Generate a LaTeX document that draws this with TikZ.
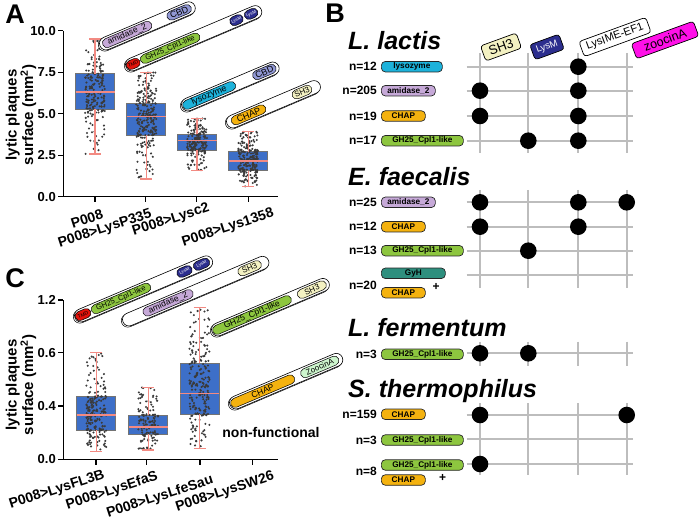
\documentclass[tikz,border=0pt]{standalone}
\usepackage{fontspec}
\setmainfont{Liberation Sans}
\usetikzlibrary{positioning,shadows}

\definecolor{boxblue}{HTML}{3D6FC8}
\definecolor{medred}{HTML}{F28A82}
\definecolor{dotc}{HTML}{3A3A3A}
\definecolor{lysoc}{HTML}{1DB2DA}
\definecolor{amic}{HTML}{C6A9D8}
\definecolor{chapc}{HTML}{F4B20F}
\definecolor{ghc}{HTML}{8DC63F}
\definecolor{gyhc}{HTML}{2E8F7E}
\definecolor{shc}{HTML}{F3F1C2}
\definecolor{lysmc}{HTML}{2C2E8E}
\definecolor{cbdc}{HTML}{9198D4}
\definecolor{tmdc}{HTML}{E3120B}
\definecolor{zoc}{HTML}{CDF5CD}
\definecolor{zohead}{HTML}{FF10E8}
\definecolor{gridc}{HTML}{BDBDBD}

\tikzset{
  iqrbox/.style={fill=boxblue, draw=black!55, line width=0.6pt},
  whisker/.style={draw=medred, line width=1.3pt},
  median/.style={draw=medred, line width=1.6pt},
  jitter/.style={fill=dotc},
  axisln/.style={draw=black, line width=1.3pt},
  ticklab/.style={anchor=east, inner sep=0pt, font=\bfseries\fontsize{13}{13}\selectfont},
  xlab/.style={rotate=18, inner sep=0pt, font=\bfseries\fontsize{14}{14}\selectfont},
  ylab/.style={rotate=90, align=center, inner sep=0pt, font=\bfseries\fontsize{15}{16.5}\selectfont},
  panel/.style={inner sep=0pt, font=\bfseries\fontsize{27}{27}\selectfont},
  barframe/.style={draw=black, fill=white, line width=0.6pt, rounded corners=6.5pt,
    drop shadow={shadow xshift=-1.2pt, shadow yshift=-1.2pt, fill=white, draw=black, line width=0.5pt, opacity=1}},
  bardom/.style={draw=black, line width=0.5pt, rounded corners=4.6pt},
  domtext/.style={inner sep=0pt, font=\fontsize{8}{8}\selectfont},
  species/.style={anchor=base west, inner sep=0pt, font=\bfseries\itshape\fontsize{25}{25}\selectfont},
  pill/.style={draw=black!85, line width=0.7pt, rounded corners=4pt, minimum height=10.5pt,
    inner sep=0pt, anchor=west, font=\bfseries\fontsize{8.2}{8.2}\selectfont},
  nlab/.style={inner sep=0pt, font=\bfseries\fontsize{12}{12}\selectfont},
  colbox/.style={draw=black, line width=0.7pt, rounded corners=3pt},
  coltext/.style={inner sep=0pt, font=\fontsize{12}{12}\selectfont},
  gridln/.style={draw=gridc, line width=2pt},
  hit/.style={fill=black},
}

% box with jittered points: centre, low whisker, box bottom, median, box top, high whisker, points
\newcommand{\plotbox}[7]{%
  \draw[iqrbox] ({#1-19.5},#3) rectangle ({#1+19.5},#5);
  \foreach \i in {1,...,#7}{
    \pgfmathsetmacro\pa{rnd}
    \pgfmathsetmacro\pb{rnd}
    \pgfmathsetmacro\yy{ifthenelse(\pa<0.5, #5+(#3-#5)*\pb,
      ifthenelse(\pa<0.75, #5-(#5-#6)*\pb*sqrt(\pb), #3+(#2-#3)*\pb*sqrt(\pb)))}
    \pgfmathsetmacro\xx{#1+10*(2*rnd-1)}
    \fill[jitter] (\xx,\yy) circle (1.15);
  }
  \draw[whisker] (#1,#5) -- (#1,#6) ({#1-6},#6) -- ({#1+6},#6);
  \draw[whisker] (#1,#3) -- (#1,#2) ({#1-6},#2) -- ({#1+6},#2);
  \draw[median] ({#1-19.5},#4) -- ({#1+19.5},#4);
}

% tilted domain bar: left end, length, domains
\newcommand{\dombar}[4]{%
  \begin{scope}[shift={(#1,#2)}, rotate=23]
    \draw[barframe] (0,-6.5) rectangle (#3,6.5);
    #4
  \end{scope}
}
% domain: [text options] name, from, to, colour, text
\newcommand{\dom}[6][]{%
  \draw[bardom, fill=#5] (#3,-4.6) rectangle (#4,4.6);
  \node[domtext, rotate=23, #1] (#2) at ({(#3+#4)/2},0) {#6};
}
% column head: name, x, y, width, colour, text options, text
\newcommand{\colhead}[7]{%
  \begin{scope}[shift={(#2,#3)}, rotate=20]
    \draw[colbox, fill=#5] ({-#4/2},-8) rectangle ({#4/2},8);
    \node[coltext, rotate=20, #6] (#1) at (0,0) {#7};
  \end{scope}
}

\begin{document}
\begin{tikzpicture}[x=1pt, y=-1pt]
    \useasboundingbox (0,0) rectangle (700,521);
    \pgfmathsetseed{7}

    %panel letters
    \node[panel] (letA) at (15,14) {A};
    \node[panel] (letB) at (335,13) {B};
    \node[panel] (letC) at (15,278) {C};

    %%%%%% panel A
    \node[ylab] (ylabA) at (21,115) {lytic plaques\\surface (mm\textsuperscript{2})};
    \draw[axisln] (63.3,30.7) -- (63.3,196.7) -- (278,196.7);
    \foreach \v/\y [count=\k] in {10.0/30.7, 7.5/72.2, 5.0/113.7, 2.5/155.2, 0.0/196.7}{
        \draw[axisln] (58,\y) -- (63.3,\y);
        \node[ticklab] (tA\k) at (56,\y) {\v};
    }
    \foreach \x in {95,145.7,196.7,248.3}
        \draw[axisln] (\x,196.7) -- (\x,202);

    \plotbox{95}{154}{109.5}{92}{73.8}{39}{200}
    \plotbox{146.2}{179}{135}{116.7}{103.3}{72.3}{250}
    \plotbox{197}{170.7}{150}{140.7}{134.3}{118.3}{200}
    \plotbox{248.2}{186.7}{170.7}{161}{151.7}{131.7}{220}

    \node[xlab] (xA1) at (87,219) {P008};
    \node[xlab] (xA2) at (105,229) {P008>LysP335};
    \node[xlab] (xA3) at (171,220) {P008>Lysc2};
    \node[xlab] (xA4) at (228,228) {P008>Lys1358};

    %domain bars A
    \dombar{100}{46}{103}{
        \dom[font=\fontsize{8.5}{8.5}\selectfont]{a1amid}{3}{56}{amic}{amidase\_2}
        \dom[font=\fontsize{9}{9}\selectfont]{a1cbd}{73}{99}{cbdc}{CBD}}
    \dombar{126}{67}{147}{
        \dom[font=\fontsize{5}{5}\selectfont]{a2tmd}{0.5}{15}{tmdc}{TMD}
        \dom[font=\fontsize{7.5}{7.5}\selectfont]{a2gh}{16}{80}{ghc}{GH25\_Cpl1-like}
        \dom[font=\fontsize{4.5}{4.5}\selectfont, text=white]{a2lm1}{113}{127}{lysmc}{LysM}
        \dom[font=\fontsize{4.5}{4.5}\selectfont, text=white]{a2lm2}{129}{143}{lysmc}{LysM}}
    \dombar{182}{107}{105}{
        \dom[font=\fontsize{9}{9}\selectfont]{a3lyso}{1}{58}{lysoc}{lysozyme}
        \dom[font=\fontsize{9}{9}\selectfont]{a3cbd}{77}{102}{cbdc}{CBD}}
    \dombar{227}{124}{101}{
        \dom[font=\fontsize{9}{9}\selectfont]{a4chap}{5}{42}{chapc}{CHAP}
        \dom{a4sh}{71}{92}{shc}{SH3}}

    %%%%%% panel C
    \node[ylab] (ylabC) at (21,385) {lytic plaques\\surface (mm\textsuperscript{2})};
    \draw[axisln] (63.3,300) -- (63.3,459.3) -- (278,459.3);
    \foreach \v/\y [count=\k] in {1.2/300, 0.6/352.7, 0.4/406, 0.0/459.3}{
        \draw[axisln] (58,\y) -- (63.3,\y);
        \node[ticklab] (tC\k) at (56,\y) {\v};
    }
    \foreach \x in {96,146.7,200,252.3}
        \draw[axisln] (\x,459.3) -- (\x,464.6);

    \plotbox{96.2}{451.7}{430}{415}{396.7}{352.7}{200}
    \plotbox{148.2}{450}{434.3}{426.7}{415}{387.3}{130}
    \plotbox{199.5}{448.3}{414}{393.3}{363.3}{307.7}{220}

    \node[inner sep=0pt, font=\bfseries\fontsize{14}{14}\selectfont] (nonf) at (271,432) {non-functional};

    \node[xlab] (xC1) at (57,490) {P008>LysFL3B};
    \node[xlab] (xC2) at (112,491) {P008>LysEfaS};
    \node[xlab] (xC3) at (160,497) {P008>LysLfeSau};
    \node[xlab] (xC4) at (225,492) {P008>LysSW26};

    %domain bars C
    \dombar{75}{318}{149}{
        \dom[font=\fontsize{5}{5}\selectfont]{c1tmd}{0.5}{17}{tmdc}{TMD}
        \dom[font=\fontsize{7.5}{7.5}\selectfont]{c1gh}{18}{82}{ghc}{GH25\_Cpl1-like}
        \dom[font=\fontsize{4.5}{4.5}\selectfont, text=white]{c1lm1}{111}{127}{lysmc}{LysM}
        \dom[font=\fontsize{4.5}{4.5}\selectfont, text=white]{c1lm2}{129}{146}{lysmc}{LysM}}
    \dombar{123}{322}{158}{
        \dom[font=\fontsize{8.5}{8.5}\selectfont]{c2amid}{22}{76}{amic}{amidase\_2}
        \dom{c2sh}{125}{150}{shc}{SH3}}
    \dombar{212}{332}{127}{
        \dom[font=\fontsize{8.5}{8.5}\selectfont]{c3gh}{1}{86}{ghc}{GH25\_Cpl1-like}
        \dom{c3sh}{93}{124}{shc}{SH3}}
    \dombar{230}{405}{122}{
        \dom[font=\fontsize{8.5}{8.5}\selectfont]{c4chap}{1}{70}{chapc}{CHAP}
        \dom{c4zoo}{77}{118}{zoc}{ZoocinA}}

    %%%%%% panel B
    %column heads
    \colhead{hSH}{501}{47}{38}{shc}{font=\fontsize{13}{13}\selectfont}{SH3}
    \colhead{hLM}{547}{47}{31}{lysmc}{text=white, font=\fontsize{9.5}{9.5}\selectfont}{LysM}
    \colhead{hIME}{615}{37}{71}{white}{font=\fontsize{11}{11}\selectfont}{LysIME-EF1}
    \colhead{hZO}{665}{40}{66}{zohead}{font=\fontsize{12.5}{12.5}\selectfont}{zoocinA}

    %grids
    \foreach \ya/\yb/\rows in {53/153/{66.7,90.7,116,140.7}, 190/288/{202.3,226.7,250.7,275},
                              341.7/366/{353.3}, 403/475/{415,439.3,464}}{
        \foreach \x in {480,528.3,578.3,626.7}
            \draw[gridln] (\x,\ya) -- (\x,\yb);
        \foreach \y in \rows
            \draw[gridln] (466.7,\y) -- (633.3,\y);
    }

    %hits
    \foreach \x/\y in {578.3/66.7, 480/90.7, 578.3/90.7, 480/116, 578.3/116, 528.3/140.7, 578.3/140.7,
                       480/202.3, 578.3/202.3, 626.7/202.3, 480/226.7, 578.3/226.7, 528.3/250.7,
                       480/353.3, 528.3/353.3,
                       480/415, 626.7/415, 480/464}
        \fill[hit] (\x,\y) circle (8.3);

    %species
    \node[species] (spLl) at (348,50) {L. lactis};
    \node[species] (spEf) at (348,185.5) {E. faecalis};
    \node[species] (spLf) at (348,336) {L. fermentum};
    \node[species] (spSt) at (348,397.5) {S. thermophilus};

    %L. lactis rows
    \node[pill, fill=lysoc, minimum width=61] (ll1) at (381,66.7) {lysozyme};
    \node[pill, fill=amic, minimum width=54] (ll2) at (381,90.7) {amidase\_2};
    \node[pill, fill=chapc, minimum width=44] (ll3) at (381,116) {CHAP};
    \node[pill, fill=ghc, minimum width=82] (ll4) at (381,140.7) {GH25\_Cpl1-like};
    \node[nlab, left=4pt of ll1] (nll1) {n=12};
    \node[nlab, left=4pt of ll2] (nll2) {n=205};
    \node[nlab, left=4pt of ll3] (nll3) {n=19};
    \node[nlab, left=4pt of ll4] (nll4) {n=17};

    %E. faecalis rows
    \node[pill, fill=amic, minimum width=54] (ef1) at (381,202.3) {amidase\_2};
    \node[pill, fill=chapc, minimum width=44] (ef2) at (381,226.7) {CHAP};
    \node[pill, fill=ghc, minimum width=82] (ef3) at (381,250.7) {GH25\_Cpl1-like};
    \node[pill, fill=gyhc, minimum width=64] (ef4) at (381,273.3) {GyH};
    \node[pill, fill=chapc, minimum width=44] (ef5) at (381,292.7) {CHAP};
    \node[nlab, left=4pt of ef1] (nef1) {n=25};
    \node[nlab, left=4pt of ef2] (nef2) {n=12};
    \node[nlab, left=4pt of ef3] (nef3) {n=13};
    \coordinate (ef45) at (381,285);
    \node[nlab, left=4pt of ef45] (nef4) {n=20};
    \node[nlab] (plusEf) at (436,287) {+};

    %L. fermentum row
    \node[pill, fill=ghc, minimum width=82] (lf1) at (381,354.3) {GH25\_Cpl1-like};
    \node[nlab, left=4pt of lf1] (nlf1) {n=3};

    %S. thermophilus rows
    \node[pill, fill=chapc, minimum width=44] (st1) at (381,414.3) {CHAP};
    \node[pill, fill=ghc, minimum width=82] (st2) at (381,440) {GH25\_Cpl1-like};
    \node[pill, fill=ghc, minimum width=82] (st3) at (381,465) {GH25\_Cpl1-like};
    \node[pill, fill=chapc, minimum width=44] (st4) at (381,480) {CHAP};
    \node[nlab, left=4pt of st1] (nst1) {n=159};
    \node[nlab, left=4pt of st2] (nst2) {n=3};
    \coordinate (st34) at (381,471.7);
    \node[nlab, left=4pt of st34] (nst3) {n=8};
    \node[nlab] (plusSt) at (442.7,478) {+};

\end{tikzpicture}
\end{document}
